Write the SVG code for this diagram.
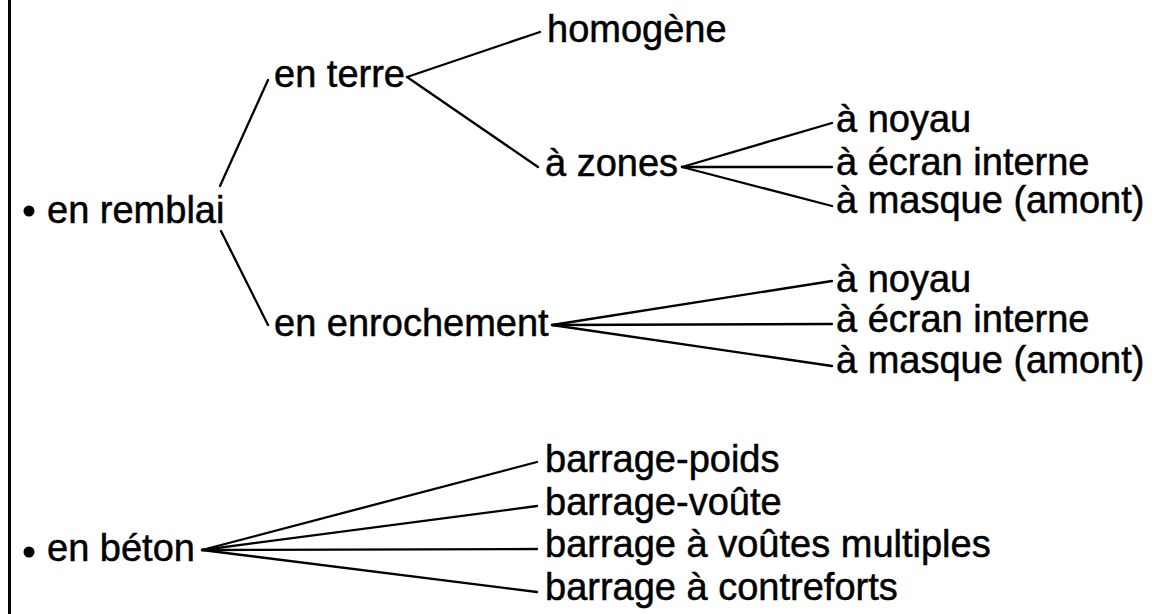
<svg xmlns="http://www.w3.org/2000/svg" width="1157" height="614" viewBox="0 0 1157 614">
<style>
text{font-family:"Liberation Sans",Arial,sans-serif;font-size:38px;fill:#000;stroke:#000;stroke-width:0.5}
.c line{stroke:#000;stroke-width:2.3;stroke-linecap:round}
</style>
<rect width="1157" height="614" fill="#fff"/>
<line x1="9.5" y1="0" x2="9.5" y2="614" stroke="#000" stroke-width="3"/>
<g class="c" id="connectors">
<line x1="220" y1="186" x2="268" y2="80"/>
<line x1="221" y1="231" x2="268" y2="325"/>
<line x1="407" y1="77" x2="540" y2="32"/>
<line x1="407" y1="77" x2="538" y2="167"/>
<line x1="682" y1="167" x2="832" y2="123"/>
<line x1="682" y1="167" x2="832" y2="167"/>
<line x1="682" y1="167" x2="832" y2="206"/>
<line x1="552" y1="325" x2="832" y2="281"/>
<line x1="552" y1="325" x2="832" y2="324"/>
<line x1="552" y1="325" x2="832" y2="366"/>
<line x1="202" y1="550" x2="537" y2="462"/>
<line x1="202" y1="550" x2="537" y2="506"/>
<line x1="202" y1="550" x2="537" y2="549"/>
<line x1="202" y1="550" x2="537" y2="592"/>
</g>
<g id="n-remblai"><circle cx="29" cy="211" r="5.5"/><text x="47" y="223">en remblai</text></g>
<g id="n-terre"><text x="274" y="87">en terre</text></g>
<g id="n-homogene"><text x="547" y="42">homogène</text></g>
<g id="n-zones"><text x="545" y="176">à zones</text></g>
<g id="n-z-noyau"><text x="836" y="132">à noyau</text></g>
<g id="n-z-ecran"><text x="836" y="175">à écran interne</text></g>
<g id="n-z-masque"><text x="836" y="213">à masque (amont)</text></g>
<g id="n-enrochement"><text x="274" y="336">en enrochement</text></g>
<g id="n-e-noyau"><text x="836" y="292">à noyau</text></g>
<g id="n-e-ecran"><text x="836" y="332">à écran interne</text></g>
<g id="n-e-masque"><text x="836" y="373">à masque (amont)</text></g>
<g id="n-beton"><circle cx="29" cy="552" r="5.5"/><text x="47" y="561">en béton</text></g>
<g id="n-poids"><text x="545" y="472">barrage-poids</text></g>
<g id="n-voute"><text x="545" y="515">barrage-voûte</text></g>
<g id="n-multiples"><text x="545" y="557">barrage à voûtes multiples</text></g>
<g id="n-contreforts"><text x="545" y="600">barrage à contreforts</text></g>
</svg>
